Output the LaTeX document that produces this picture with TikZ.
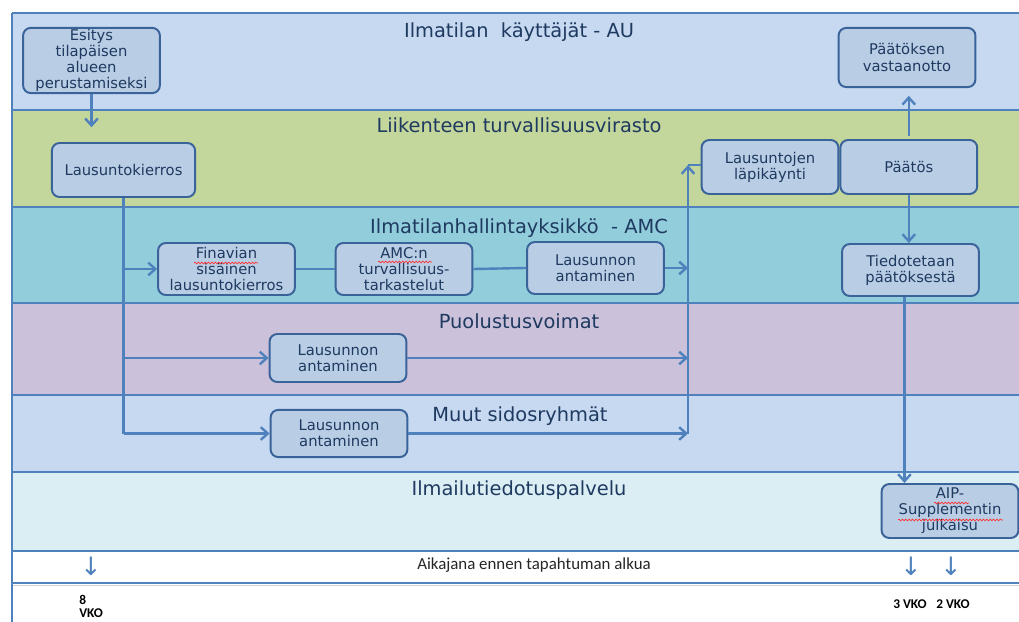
\documentclass[tikz,border=0pt]{standalone}
\usepackage{fontspec}
\setmainfont{DejaVu Sans}
\newfontfamily\aikafont{Carlito}
\usetikzlibrary{positioning,calc,arrows.meta,decorations.pathmorphing}
\definecolor{aucolor}{HTML}{C6D9F1}
\definecolor{trafcolor}{HTML}{C3D69B}
\definecolor{amccolor}{HTML}{92CDDC}
\definecolor{pvcolor}{HTML}{CCC1DA}
\definecolor{muutcolor}{HTML}{C6D9F1}
\definecolor{aiscolor}{HTML}{DBEEF4}
\definecolor{linecolor}{HTML}{4F81BD}
\definecolor{boxline}{HTML}{3A639A}
\definecolor{boxfill}{HTML}{B9CDE5}
\definecolor{textcolor}{HTML}{1F3A60}

\begin{document}
\begin{tikzpicture}[
    x=0.025cm, y=-0.025cm,
    box/.style={rectangle, draw=boxline, line width=1.4pt, rounded corners=5.5pt, fill=boxfill, minimum width=3.42cm, minimum height=1.3cm, align=center, inner sep=1pt, text=textcolor, font=\fontsize{10.5}{11.4}\selectfont},
    lane/.style={draw=linecolor, line width=1.6pt},
    lanetitle/.style={text=textcolor, font=\fontsize{13.8}{16}\selectfont},
    link/.style={draw=linecolor, line width=1.7pt},
    arrow/.style={link, ->, >={Straight Barb[length=5pt,width=9pt]}},
    timearrow/.style={text=linecolor, font=\fontsize{18}{18}\selectfont, inner sep=0pt},
    vko/.style={font=\aikafont\bfseries\fontsize{9.5}{9.3}\selectfont, inner sep=0pt},
    squiggle/.style={draw=red!80, line width=0.5pt, decorate, decoration={snake, amplitude=0.6pt, segment length=2.4pt}}
]
\useasboundingbox (0,0) rectangle (1019,622);
\clip (0,0) rectangle (1019,622);

% lanes
\fill[aucolor] (12,13) rectangle (1030,110);
\fill[trafcolor] (12,110) rectangle (1030,207);
\fill[amccolor] (12,207) rectangle (1030,303);
\fill[pvcolor] (12,303) rectangle (1030,395);
\fill[muutcolor] (12,395) rectangle (1030,472);
\fill[aiscolor] (12,472) rectangle (1030,551);
\draw[gray!35, line width=1pt] (12,585.5) -- (1030,585.5);
\foreach \y in {13,110,207,303,395,472,551,583}
    \draw[lane] (12,\y) -- (1030,\y);
\draw[lane] (12,13) -- (12,640);

\node[lanetitle] (tAU) at (519,32) {Ilmatilan\ \ käyttäjät - AU};
\node[lanetitle] (tTrafi) at (519,125) {Liikenteen turvallisuusvirasto};
\node[lanetitle] (tAMC) at (519,228) {Ilmatilanhallintayksikkö\ \ - AMC};
\node[lanetitle] (tPV) at (519,321) {Puolustusvoimat};
\node[lanetitle] (tMuut) at (520,416) {Muut sidosryhmät};
\node[lanetitle] (tAIS) at (519,490) {Ilmailutiedotuspalvelu};

% boxes
\node[box, minimum height=1.63cm] (esitys) at (91.5,60.5) {Esitys\\tilapäisen\\alueen\\perustamiseksi};
\node[box, minimum width=3.58cm, minimum height=1.35cm] (kierros) at (123.5,170) {Lausuntokierros};
\node[box] (finavian) at (226.5,269) {Finavian\\sisäinen\\lausuntokierros};
\node[box] (amcn) at (404,269) {AMC:n\\turvallisuus-\\tarkastelut};
\node[box] (lausAMC) at (595.5,268) {Lausunnon\\antaminen};
\node[box, minimum height=1.35cm] (lapikaynti) at (770,167) {Lausuntojen\\läpikäynti};
\node[box, minimum height=1.35cm, right=0pt of lapikaynti] (paatos) {Päätös};
\node[box, minimum height=1.48cm] (vastaanotto) at (907,57.5) {Päätöksen\\vastaanotto};
\node[box] (tiedotus) at (910.5,270) {Tiedotetaan\\päätöksestä};
\node[box, minimum height=1.2cm] (lausPV) at (338,358) {Lausunnon\\antaminen};
\node[box, minimum height=1.18cm] (lausMuut) at (339,433.5) {Lausunnon\\antaminen};
\node[box, minimum height=1.35cm] (aip) at (950,511) {AIP-\\Supplementin\\julkaisu};

% connectors
\coordinate (kokoaja) at (688,165);
\draw[arrow, shorten >=10.5pt] (esitys.south) -- (esitys.south |- kierros.north);
\draw[link] (kierros.south) -- (kierros.south |- lausMuut.west);
\draw[arrow] (kierros.south |- finavian.west) -- (finavian.west);
\draw[arrow] (kierros.south |- lausPV.west) -- (lausPV.west);
\draw[arrow] (kierros.south |- lausMuut.west) -- (lausMuut.west);
\draw[link] (finavian.east) -- (amcn.west);
\draw[link] (amcn.east) -- (lausAMC.west);
\draw[arrow] (lausAMC.east) -- (kokoaja |- lausAMC.east);
\draw[arrow] (lausPV.east) -- (kokoaja |- lausPV.east);
\draw[arrow] (lausMuut.east) -- (kokoaja |- lausMuut.east);
\draw[arrow] (kokoaja |- lausMuut.east) -- (kokoaja);
\draw[link] (kokoaja) -- (lapikaynti.west |- kokoaja);
\draw[arrow, shorten >=5.5pt] ([yshift=2pt]paatos.north) -- (paatos.north |- vastaanotto.south);
\draw[arrow] (paatos.south) -- (paatos.south |- tiedotus.north);
\draw[arrow] ([xshift=-4.3pt]tiedotus.south) -- ([xshift=-4.3pt]tiedotus.south |- aip.north);

% spelling marks
\draw[squiggle] (194,263) -- (258,263);
\draw[squiggle] (378,262) -- (432,262);
\draw[squiggle] (934,503) -- (969,503);
\draw[squiggle] (898,520) -- (1003,520);

% timeline
\node[font=\aikafont\fontsize{12}{14}\selectfont, text=black!85] (aikajana) at (534,565) {Aikajana ennen tapahtuman alkua};
\node[timearrow] (nuoli8) at (91,566) {↓};
\node[timearrow] (nuoli3) at (911,566) {↓};
\node[timearrow] (nuoli2) at (951,566) {↓};
\node[vko, anchor=north west, align=left] (vko8) at (79,595) {8\\VKO};
\node[vko] (vko3) at (910,604) {3 VKO};
\node[vko] (vko2) at (953,604) {2 VKO};

\end{tikzpicture}
\end{document}
